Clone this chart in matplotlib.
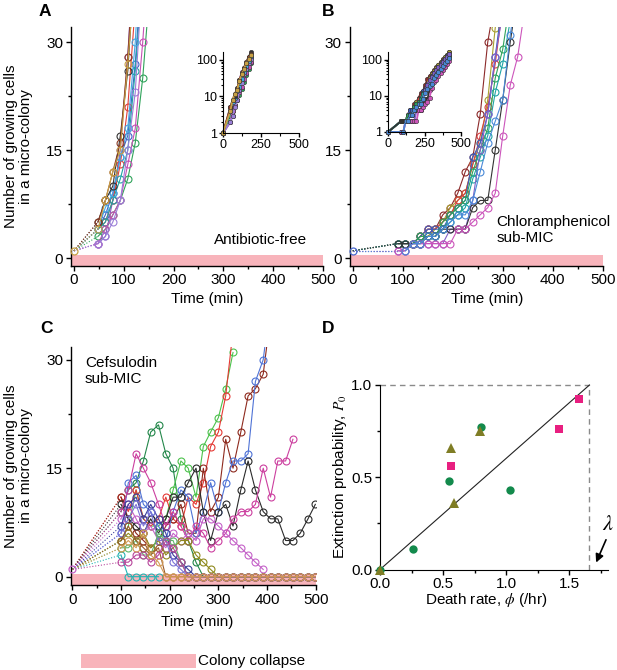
import numpy as np
import matplotlib
matplotlib.use('Agg')
import matplotlib.pyplot as plt
from matplotlib.ticker import FixedLocator, FixedFormatter, LogLocator, NullFormatter
from matplotlib.patches import Rectangle

plt.rcParams['font.family'] = ['Liberation Sans', 'DejaVu Sans']
plt.rcParams['mathtext.fontset'] = 'stix'
plt.rcParams['font.size'] = 11

n = np.nan

# ---------------- Panel A : antibiotic-free ----------------
time_A = [0, 48, 63, 78, 93, 108, 123, 138, 153, 168, 183]
counts_A = [
    [1, 2, 3, 8, 15, 28, 46, 62, 84, 110, 140],
    [1, 4, 6, 9, 14, 17, 27, 42, 60, 85, 115],
    [1, 4, 5, 8, 13, 21, 35, 50, 70, 95, 125],
    [1, 3, 4, 6, 8, 11, 16, 25, 38, 55, 80],
    [1, 4, 5, 8, 11, 15, 26, 40, 58, 80, 110],
    [1, 2, 4, 6, 8, 13, 18, 30, 45, 65, 90],
    [1, 2, 3, 5, 8, 15, 23, 40, 58, 80, 105],
    [1, 4, 7, 9, 14, 18, 30, 48, 70, 95, 130],
    [1, 5, 8, 10, 17, 26, 42, 60, 85, 120, 160],
    [1, 5, 8, 12, 16, 28, 44, 62, 88, 118, 150],
    [1, 4, 8, 12, 15, 27, 40, 58, 80, 105, 140],
]
colors_A = ['#8a5cc8', '#3f63c8', '#e0403a', '#2fa35a', '#1fa5a5', '#c74fb5',
            '#9b7fd8', '#45a8e0', '#333333', '#8c3b25', '#c9a245']

# ---------------- Panel B : chloramphenicol sub-MIC ----------------
time_B = [0, 90, 105, 120, 135, 150, 165, 180, 195, 210, 225, 240, 255, 270,
          285, 300, 315, 330, 345, 360, 375, 390, 405, 420]
counts_B = [
    [1, 2, 2, 2, 3, 4, 4, 6, 7, 9, 12, 14, 20, 30, 36, 44, 52, 62, 74, 88, 104, 122, 140, 165],
    [1, 2, 2, 2, 3, 3, 4, 5, 7, 8, 9, 13, 16, 22, 32, 40, 48, 58, 70, 84, 100, 118, 138, 160],
    [1, 2, 2, 2, 3, 4, 4, 5, 6, 8, 9, 13, 17, 21, 27, 35, 43, 52, 63, 75, 90, 106, 124, 145],
    [1, 2, 2, 2, 3, 4, 4, 4, 6, 7, 8, 14, 16, 20, 28, 36, 44, 53, 64, 77, 92, 108, 126, 148],
    [1, 2, 2, 2, 3, 3, 3, 5, 6, 7, 8, 12, 15, 18, 25, 29, 36, 44, 54, 65, 78, 93, 110, 130],
    [1, 2, 2, 2, 2, 3, 3, 4, 5, 6, 7, 11, 14, 17, 23, 27, 33, 40, 49, 59, 71, 85, 100, 118],
    [1, 1, 1, 2, 2, 2, 2, 2, 4, 4, 4, 8, 15, 20, 28, 34, 42, 51, 62, 74, 88, 104, 122, 142],
    [1, 2, 2, 2, 2, 3, 3, 4, 4, 4, 4, 7, 8, 8, 15, 22, 30, 37, 45, 55, 66, 79, 94, 110],
    [1, 1, 1, 2, 2, 2, 2, 2, 2, 4, 4, 5, 6, 7, 9, 17, 24, 28, 35, 43, 52, 63, 75, 90],
    [1, n, 1, 2, 2, 3, 3, 4, 5, 6, 6, 8, 12, 16, 19, 22, 31, 38, 46, 56, 67, 80, 95, 112],
]
colors_B = ['#8c2a2a', '#a8a030', '#d84040', '#3a60c0', '#2fa35a', '#1fa5a5',
            '#8060c8', '#333333', '#cc55bb', '#4a8ad8']

# ---------------- Panel C : cefsulodin sub-MIC ----------------
time_C = [0, 100, 115, 131, 146, 161, 177, 192, 207, 223, 238, 254, 269, 284,
          300, 315, 330, 346, 361, 376, 392, 407, 422, 438, 453, 468, 484, 499]
counts_C = [
    [1, 3, 0, 0, 0, 0, 0],
    [1, 9, 12, 13, 16, 20, 21, 17, 15, 8, 5, 2, 0, 0, 0, 0, 0, 0, 0, 0, 0, 0, 0, 0, 0, 0, 0, 0],
    [1, 5, 7, 12, 8, 7, 7, 8, 12, 16, 15, 11, 18, 20, 22, 26, 31],
    [1, 11, 9, 12, 8, 7, 8, 11, 8, 7, 11, 10, 13, 18, 20, 25, 34],
    [1, 11, 8, 6, 5, 4, 5, 7, 8, 10, 6, 6, 15, 9, 11, 19, 15, 20, 25, 26, 28, 36],
    [1, 6, 13, 14, 10, 9, 7, 5, 9, 12, 11, 6, 9, 13, 9, 13, 16, 16, 17, 27, 30, 38],
    [1, 10, 8, 7, 6, 8, 6, 8, 11, 11, 13, 15, 9, 5, 9, 10, 7, 12, 16, 12, 9, 8, 8, 5, 5, 6, 8, 10],
    [1, 9, 12, 17, 15, 13, 10, 7, 9, 7, 5, 7, 6, 4, 5, 6, 8, 9, 9, 10, 15, 11, 16, 16, 19],
    [1, 8, 10, 8, 6, 7, 5, 4, 6, 5, 6, 5, 8, 8, 7, 6, 5, 4, 3, 2, 1],
    [1, 5, 6, 5, 6, 4, 5, 3, 4, 5, 5, 3, 2, 1, 0, 0, 0, 0, 0, 0, 0, 0, 0, 0, 0, 0, 0, 0],
    [1, 7, 10, 11, 8, 10, 8, 6, 3, 2, 1, 0, 0, 0, 0, 0, 0, 0, 0, 0, 0, 0, 0, 0, 0, 0, 0, 0],
    [1, 6, 8, 10, 7, 9, 5, 5, 2, 1, 0, 0, 0, 0, 0, 0, 0, 0, 0, 0, 0, 0, 0, 0, 0, 0, 0, 0],
    [1, 4, 4, 5, 3, 3, 6, 5, 5, 2, 0, 0, 0, 0, 0, 0, 0, 0, 0, 0, 0, 0, 0, 0, 0, 0, 0, 0],
    [1, 5, 7, 5, 4, 3, 4, 0, 0, 0, 0, 0, 0, 0, 0, 0, 0, 0, 0, 0, 0, 0, 0, 0, 0, 0, 0, 0],
    [1, 2, 2, 3, 3, 2, 3, 5, 4, 2, 0, 0, 0, 0, 0, 0, 0, 0, 0, 0, 0, 0, 0, 0, 0, 0, 0, 0],
    [1, 4, 5, 4, 6, 3, 2, 0, 0, 0, 0, 0, 0, 0, 0, 0, 0, 0, 0, 0, 0, 0, 0, 0, 0, 0, 0, 0],
]
colors_C = ['#22b3b3', '#23874a', '#4cc24c', '#e53a35', '#8e2a1e', '#4f73d6',
            '#2b2b2b', '#cc3f9f', '#c462c8', '#8f8a1e', '#3b3f9c', '#7b72d6',
            '#5fb86a', '#9a5a2a', '#b8489c', '#d29b55']

# ---------------- Panel D : extinction probability ----------------
death_green = [0.0, 0.26, 0.55, 0.80, 1.03]
ext_green = [0.0, 0.11, 0.48, 0.77, 0.43]
death_olive = [0.0, 0.56, 0.59, 0.79]
ext_olive = [0.0, 0.66, 0.36, 0.75]
death_pink = [0.56, 1.415, 1.575]
ext_pink = [0.56, 0.76, 0.925]
lam = 1.66

PINK = '#f8b4bb'
W, H = 617, 670
fig = plt.figure(figsize=(W / 100, H / 100), dpi=100)


def add_ax(l, t, r, b):
    return fig.add_axes([l / W, 1 - b / H, (r - l) / W, (b - t) / H])


def style_main(ax, xlim, ylim):
    ax.set_xlim(*xlim)
    ax.set_ylim(*ylim)
    for s in ['top', 'right']:
        ax.spines[s].set_visible(False)
    for s in ['left', 'bottom']:
        ax.spines[s].set_linewidth(1.0)
    ax.xaxis.set_major_locator(FixedLocator([0, 100, 200, 300, 400, 500]))
    ax.xaxis.set_minor_locator(FixedLocator([50, 150, 250, 350, 450]))
    ax.yaxis.set_major_locator(FixedLocator([0, 15, 30]))
    ax.yaxis.set_minor_locator(FixedLocator([7.5, 22.5]))
    ax.tick_params(which='major', direction='out', length=3.5, width=1, pad=2, labelsize=11)
    ax.tick_params(which='minor', direction='out', length=2, width=1)
    ax.axhspan(ylim[0], 0.42, color=PINK, lw=0, zorder=0.5)


def draw_main(ax, t, counts, colors, start_color):
    t = np.asarray(t, float)
    for y, c in zip(counts, colors):
        y = np.asarray(y, float)
        tt = t[:len(y)]
        ok = ~np.isnan(y)
        tv, yv = tt[ok], y[ok]
        ax.plot(tv[:2], yv[:2], color=c, lw=0.8, ls=(0, (1, 1.6)), zorder=2)
        ax.plot(tv[1:], yv[1:], color=c, lw=0.8, marker='o', ms=5, mfc='none',
                mec=c, mew=0.8, zorder=3)
    ax.plot([t[0]], [counts[0][0]], 'o', ms=5, mfc='none', mec=start_color,
            mew=0.9, zorder=4, clip_on=False)


def draw_inset(ax, t, counts, colors):
    t = np.asarray(t, float)
    for y, c in zip(counts, colors):
        y = np.asarray(y, float)
        tt = t[:len(y)]
        ok = ~np.isnan(y)
        ax.plot(tt[ok], y[ok], color=c, lw=1.3, marker='o', ms=3.2, mfc=c,
                mec='#333333', mew=0.4, clip_on=False)
    ax.set_yscale('log')
    ax.set_xlim(0, 500)
    ax.set_ylim(1, 165)
    ax.patch.set_alpha(0)
    for s in ['top', 'right']:
        ax.spines[s].set_visible(False)
    ax.yaxis.set_major_locator(FixedLocator([1, 10, 100]))
    ax.yaxis.set_major_formatter(FixedFormatter(['1', '10', '100']))
    ax.yaxis.set_minor_locator(LogLocator(base=10, subs=np.arange(2, 10)))
    ax.yaxis.set_minor_formatter(NullFormatter())
    ax.xaxis.set_major_locator(FixedLocator([0, 250, 500]))
    ax.xaxis.set_minor_locator(FixedLocator([125, 375]))
    ax.tick_params(which='major', direction='out', length=3, width=1, pad=1.5, labelsize=9)
    ax.tick_params(which='minor', direction='out', length=1.8, width=0.8)


# ---- A ----
axA = add_ax(70.7, 27, 323, 265.7)
style_main(axA, (-6.6, 500), (-1.07, 32.1))
draw_main(axA, time_A, counts_A, colors_A, '#c9a245')
axA.text(468, 2.5, 'Antibiotic-free', ha='right', va='center', fontsize=11)
axA.text(0.54, -0.14, 'Time (min)', transform=axA.transAxes, ha='center', va='center', fontsize=11)

insA = add_ax(223, 52, 299, 133)
draw_inset(insA, time_A, counts_A, colors_A)

# ---- B ----
axB = add_ax(349.5, 27, 602.7, 265.7)
style_main(axB, (-6.6, 500), (-1.07, 32.1))
draw_main(axB, time_B, counts_B, colors_B, '#4a6ad0')
axB.text(287, 3.9, 'Chloramphenicol\nsub-MIC', ha='left', va='center', fontsize=11,
         linespacing=1.15)
axB.text(0.545, -0.14, 'Time (min)', transform=axB.transAxes, ha='center', va='center', fontsize=11)

insB = add_ax(388, 52, 461, 132)
draw_inset(insB, time_B, counts_B, colors_B)

# ---- C ----
axC = add_ax(70.7, 346.7, 315.8, 585)
style_main(axC, (-3.3, 500), (-1.15, 31.8))
draw_main(axC, time_C, counts_C, colors_C, '#c462c8')
axC.text(26, 28.4, 'Cefsulodin\nsub-MIC', ha='left', va='center', fontsize=11, linespacing=1.15)
axC.text(0.517, -0.154, 'Time (min)', transform=axC.transAxes, ha='center', va='center', fontsize=11)

# y labels for A and C
fig.text(18.5 / W, 1 - 146.5 / H, 'Number of growing cells\nin a micro-colony', rotation=90,
         ha='center', va='center', fontsize=11, linespacing=1.05)
fig.text(18.5 / W, 1 - 466 / H, 'Number of growing cells\nin a micro-colony', rotation=90,
         ha='center', va='center', fontsize=11, linespacing=1.05)

# ---- D ----
axD = add_ax(380, 385, 608, 569.5)
axD.set_xlim(0, 1.807)
axD.set_ylim(0, 1.0)
for s in ['top', 'right']:
    axD.spines[s].set_visible(False)
axD.xaxis.set_major_locator(FixedLocator([0, 0.5, 1.0, 1.5]))
axD.xaxis.set_major_formatter(FixedFormatter(['0.0', '0.5', '1.0', '1.5']))
axD.xaxis.set_minor_locator(FixedLocator([0.25, 0.75, 1.25, 1.75]))
axD.yaxis.set_major_locator(FixedLocator([0, 0.5, 1.0]))
axD.yaxis.set_major_formatter(FixedFormatter(['0.0', '0.5', '1.0']))
axD.yaxis.set_minor_locator(FixedLocator([0.25, 0.75]))
axD.tick_params(which='major', direction='out', length=3.5, width=1, pad=2, labelsize=11)
axD.tick_params(which='minor', direction='out', length=2, width=1)

axD.plot([0, lam], [1, 1], color='#8a8a8a', lw=1, ls=(0, (4, 3)), clip_on=False)
axD.plot([lam, lam], [0, 1], color='#8a8a8a', lw=1, ls=(0, (4, 3)), clip_on=False)
axD.plot([0, lam], [0, 1], color='#222222', lw=0.8, clip_on=False)
axD.plot(death_green, ext_green, 'o', color='#138a4c', ms=6, mew=0, clip_on=False, zorder=4)
axD.plot(death_pink, ext_pink, 's', color='#e81f80', ms=5.5, mew=0, clip_on=False, zorder=4)
axD.plot(death_olive, ext_olive, '^', color='#7f7d25', ms=7, mew=0, clip_on=False, zorder=5)
axD.annotate('', xy=(1.704, 0.024), xytext=(1.80, 0.175),
             arrowprops=dict(arrowstyle='-|>', color='black', lw=1.2, mutation_scale=12),
             annotation_clip=False)
axD.text(1.808, 0.245, r'$\lambda$', fontsize=16, ha='center', va='center', clip_on=False)
axD.text(0.464, -0.165, r'Death rate, $\phi$ (/hr)', transform=axD.transAxes,
         ha='center', va='center', fontsize=11)
fig.text(340 / W, 1 - 477 / H, r'Extinction probability, $P_{\mathit{0}}$', rotation=90,
         ha='center', va='center', fontsize=11)

# panel letters
for lab, x, y in [('A', 45, 11), ('B', 328, 11), ('C', 46.5, 328.5), ('D', 328, 328.5)]:
    fig.text(x / W, 1 - y / H, lab, fontsize=12.5, fontweight='bold', ha='center', va='center')

# legend for colony collapse
fig.add_artist(Rectangle((81 / W, 1 - 668 / H), 115 / W, 14 / H, transform=fig.transFigure,
                         facecolor=PINK, edgecolor='none'))
fig.text(198 / W, 1 - 661.5 / H, 'Colony collapse', ha='left', va='center', fontsize=11)

fig.savefig('out.png', dpi=100)
